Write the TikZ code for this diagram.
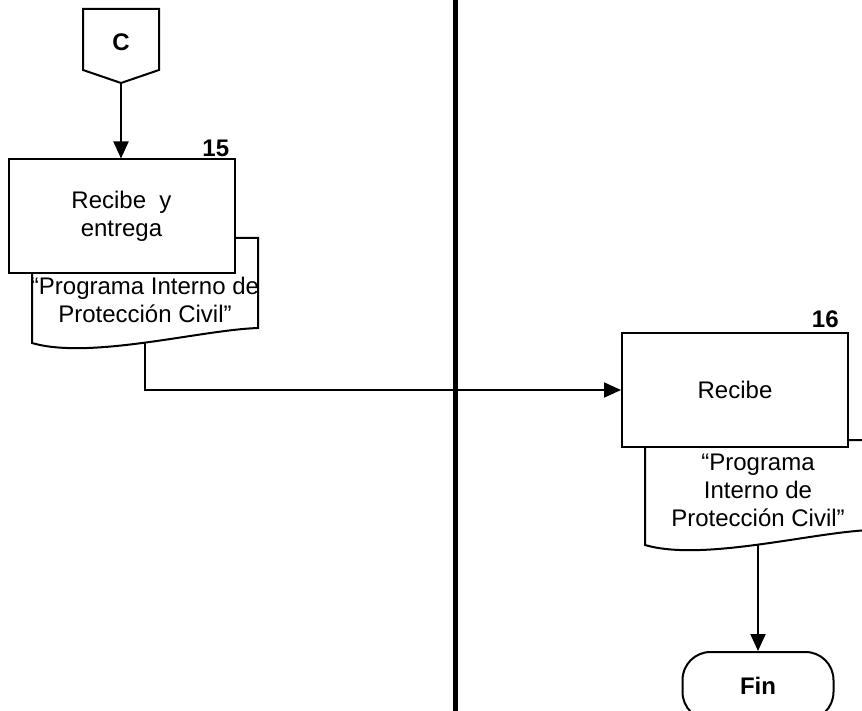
\documentclass[tikz,border=0pt]{standalone}
\usepackage{fontspec}
\setmainfont{Liberation Sans}
\usetikzlibrary{arrows.meta,positioning,calc}

\begin{document}
\begin{tikzpicture}[
    x=0.5pt,y=-0.5pt,
    every node/.style = {font=\fontsize{12}{14}\selectfont},
    proc/.style    = {draw, fill=white, line width=1pt, align=center,
                      minimum width=113pt, minimum height=57pt, inner sep=0pt},
    term/.style    = {draw, fill=white, line width=1pt, rounded corners=14pt,
                      minimum width=75.5pt, minimum height=34pt,
                      font=\fontsize{12}{14}\selectfont\bfseries},
    doctxt/.style  = {align=center, inner sep=0pt},
    num/.style     = {font=\fontsize{12}{14}\selectfont\bfseries,
                      inner sep=0pt, anchor=base east},
    flecha/.style  = {-{Triangle[length=8.5pt,width=7.5pt]}, line width=1pt},
    carril/.style  = {line width=2.5pt},
  ]

  \tikzset{docu/.pic={
      \draw[line width=1pt,fill=white] (0,0) -- (226,0) -- (226,90)
           .. controls (168,92) and (58,122) .. (0,105) -- cycle;}}

  \useasboundingbox (0,0) rectangle (862,711);
  \clip (0,0) rectangle (862,711);

  % ── Carriles ────────────────────────────────────────────────────────────
  \draw[carril] (455,0) -- (455,711);

  % ── Conector de página ──────────────────────────────────────────────────
  \draw[line width=1pt] (83,9) -- (159,9) -- (159,70) -- (121,83) -- (83,70) -- cycle;
  \node[font=\fontsize{12}{14}\selectfont\bfseries] (conC) at (121,42) {C};
  \coordinate (cbot) at (121,83);

  % ── Actividad 15 ────────────────────────────────────────────────────────
  \pic at (32,238) {docu};
  \node[proc] (p15) at (121.5,216.5) {Recibe\ \ y\\entrega};
  \node[num] at ([xshift=-3pt,yshift=1pt]p15.north east) {15};
  \node[doctxt] (d15) at (145,300) {“Programa Interno de\\Protección Civil”};
  \coordinate (d15out) at (145,343);

  % ── Actividad 16 ────────────────────────────────────────────────────────
  \pic at (645,440) {docu};
  \node[proc] (p16) at (735,390) {Recibe};
  \node[num] at ([xshift=-5pt,yshift=2pt]p16.north east) {16};
  \node[doctxt] (d16) at (758,490) {“Programa\\Interno de\\Protección Civil”};
  \coordinate (d16out) at (758,545);

  % ── Fin ─────────────────────────────────────────────────────────────────
  \node[term] (fin) at (758,686) {Fin};

  % ── Flujo ───────────────────────────────────────────────────────────────
  \draw[flecha] (cbot) -- (cbot |- p15.north);
  \draw[flecha] (d15out) |- (p16.west);
  \draw[flecha] (d16out) -- (fin.north);

\end{tikzpicture}
\end{document}
